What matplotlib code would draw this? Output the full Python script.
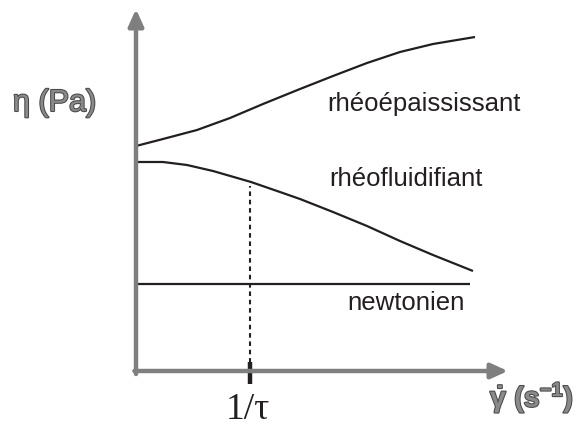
import matplotlib
matplotlib.use("Agg")
import matplotlib.pyplot as plt
import matplotlib.patheffects as pe

plt.rcParams["mathtext.fontset"] = "custom"
plt.rcParams["mathtext.rm"] = "Liberation Sans:bold"
plt.rcParams["mathtext.it"] = "Liberation Sans:bold"
plt.rcParams["mathtext.bf"] = "Liberation Sans:bold"

# data (x: shear rate, y: viscosity; arbitrary units)
thick_x = [0, 27, 61, 94, 127, 164, 197, 231, 264, 297, 339]
thick_y = [225, 232, 241, 253, 267, 282, 295, 308, 319, 327, 334]
thin_x = [0, 27, 51, 77, 115, 144, 164, 197, 231, 264, 297, 337]
thin_y = [209, 209, 206, 200, 189, 179, 172, 159, 145, 130, 116, 100]
newt_x = [0, 334]
newt_y = [87, 87]
tau_x = 114          # position of 1/tau
tau_y = 185          # top of the dashed guide
labels = ["rhéoépaississant", "rhéofluidifiant", "newtonien"]
label_pos = [(191, 268), (193, 193), (211, 69)]

fig = plt.figure(figsize=(5.79, 4.27), dpi=100)
ax = fig.add_axes([0, 0, 1, 1])
ax.set_xlim(-136, 443)
ax.set_ylim(-55, 372)
ax.axis("off")

grey = "#7f7f80"
# axes arrows
ax.annotate("", xy=(0, 362), xytext=(0, -3),
            arrowprops=dict(arrowstyle="-|>,head_length=1.0,head_width=0.45",
                            color=grey, lw=3.2, shrinkA=0, shrinkB=0))
ax.annotate("", xy=(372, 0), xytext=(-1.6, 0),
            arrowprops=dict(arrowstyle="-|>,head_length=1.0,head_width=0.45",
                            color=grey, lw=3.2, shrinkA=0, shrinkB=0))

kw = dict(color="#231f20", lw=1.6, solid_capstyle="butt", solid_joinstyle="round")
ax.plot(thick_x, thick_y, **kw)
ax.plot(thin_x, thin_y, **kw)
ax.plot(newt_x, newt_y, **kw)
ax.plot([tau_x, tau_x], [0, tau_y], color="#231f20", lw=1.5,
        linestyle=(0, (2.2, 1.8)))
ax.plot([tau_x, tau_x], [-13, 9], color="#231f20", lw=3.2, solid_capstyle="butt")

for t, (x, y) in zip(labels, label_pos):
    ax.text(x, y, t, ha="left", va="center", fontsize=18.5,
            family="Liberation Sans", color="#231f20")

outline = [pe.withStroke(linewidth=1.5, foreground="#4a4a4a")]
ax.text(-123, 268, "η (Pa)", ha="left", va="center", fontsize=22,
        family="Liberation Sans", color="#8a8a8a",
        path_effects=outline)
ax.text(354, -27, r"$\dot{\gamma}\ (\mathrm{s}^{-1})$", ha="left", va="center",
        fontsize=20.5, color="#8a8a8a", path_effects=outline)
ax.text(tau_x - 2, -38, "1/τ", ha="center", va="center", fontsize=27,
        family="Liberation Serif", color="#231f20")

fig.savefig("out.png", dpi=100)
